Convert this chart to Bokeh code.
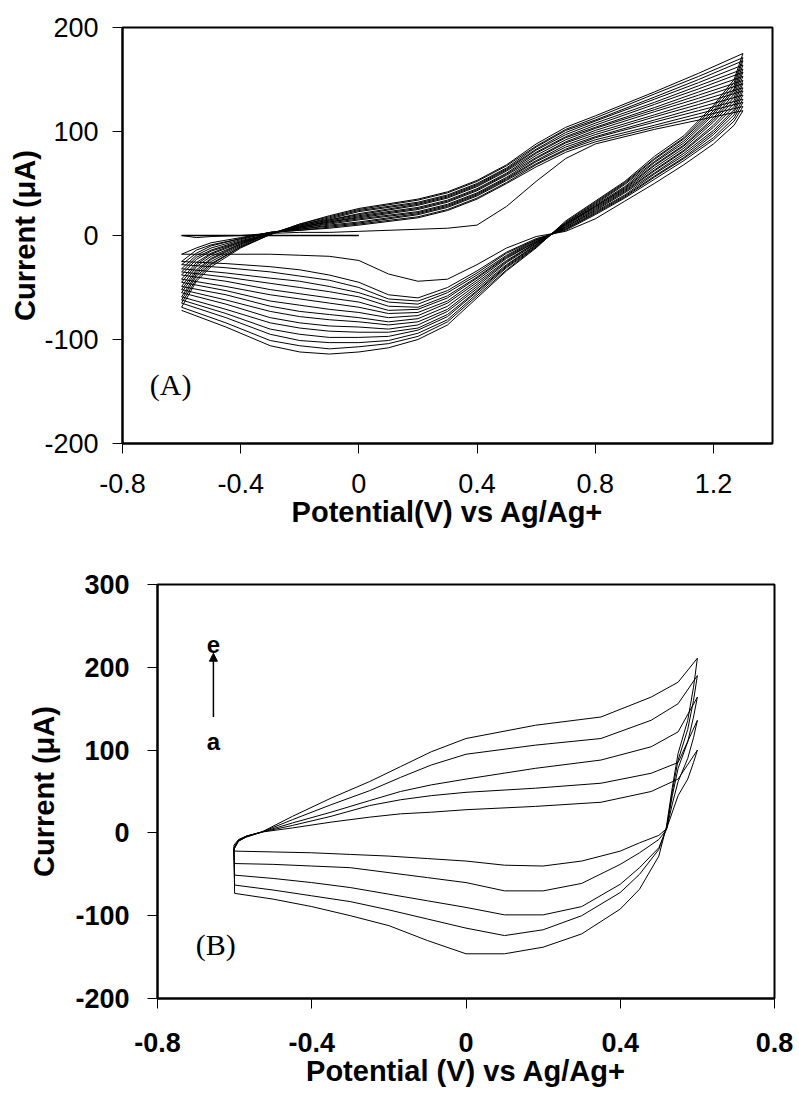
from bokeh.plotting import figure
from bokeh.models import Range1d, FixedTicker, Label, Arrow, NormalHead
from bokeh.embed import file_html
from bokeh.resources import INLINE

# ================= Panel (A): repeated cycles =================
A_X_TICKS = [-0.8, -0.4, 0.0, 0.4, 0.8, 1.2]
A_X_LABELS = ["-0.8", "-0.4", "0", "0.4", "0.8", "1.2"]
A_Y_TICKS = [-200, -100, 0, 100, 200]
A_Y_LABELS = ["-200", "-100", "0", "100", "200"]

# initial scan 0 V -> -0.6 V
A_START_X = [0.0, -0.6]
A_START_Y = [0, 0]

# potentials (V) of the forward (anodic) and reverse (cathodic) sweeps
A_X_ANODIC = [-0.6, -0.55, -0.5, -0.4, -0.3, -0.2, -0.1, 0.0, 0.2, 0.3, 0.4, 0.5, 0.6, 0.7, 0.8, 1.0, 1.15, 1.3]
A_X_CATHODIC = [1.27, 1.2, 1.1, 1.0, 0.9, 0.8, 0.7, 0.6, 0.5, 0.4, 0.3, 0.2, 0.1, 0.0, -0.1, -0.2, -0.3, -0.45, -0.6]

# currents (uA) per cycle
an01 = [0, -2, -1, 0, 2, 3, 3, 4, 6, 7, 10, 28, 52, 74, 88, 102, 111, 120]
ca01 = [106, 88, 68, 50, 33, 16, 4, -1, -12, -28, -42, -44, -37, -24, -20, -19, -18, -18, -18]
an02 = [-18, -12, -7, -2, 3, 5, 7, 10, 17, 24, 35, 50, 66, 80, 90, 104, 114, 124]
ca02 = [110, 92, 72, 54, 36, 20, 5, -3, -16, -34, -50, -60, -57, -45, -38, -33, -30, -27, -25]
an03 = [-25, -14, -9, -3, 3, 5, 8, 11, 18, 25, 36, 51, 68, 82, 92, 106, 117, 128]
ca03 = [113, 94, 74, 56, 37, 21, 6, -4, -17, -36, -53, -63, -61, -50, -43, -39, -35, -31, -28]
an04 = [-28, -17, -10, -3, 3, 6, 9, 12, 20, 27, 38, 53, 69, 83, 94, 109, 120, 131]
ca04 = [116, 97, 75, 57, 38, 22, 6, -4, -19, -38, -55, -66, -64, -55, -49, -44, -41, -36, -32]
an05 = [-32, -19, -12, -4, 3, 6, 10, 13, 21, 28, 39, 54, 71, 85, 95, 111, 123, 135]
ca05 = [119, 99, 77, 59, 39, 23, 7, -5, -20, -40, -58, -69, -68, -59, -54, -50, -46, -40, -35]
an06 = [-35, -21, -14, -5, 2, 7, 11, 15, 22, 29, 40, 55, 72, 87, 97, 114, 126, 139]
ca06 = [121, 101, 79, 60, 41, 24, 8, -6, -21, -41, -60, -71, -72, -64, -60, -56, -52, -44, -38]
an07 = [-38, -23, -15, -6, 2, 7, 12, 16, 23, 30, 41, 56, 74, 89, 99, 116, 129, 142]
ca07 = [124, 104, 81, 62, 42, 25, 8, -6, -22, -43, -63, -74, -75, -69, -65, -61, -57, -49, -42]
an08 = [-42, -26, -17, -6, 2, 8, 13, 17, 25, 32, 43, 58, 75, 90, 101, 119, 132, 146]
ca08 = [127, 106, 82, 63, 43, 26, 9, -7, -24, -45, -65, -77, -79, -74, -71, -67, -63, -53, -45]
an09 = [-45, -28, -18, -7, 2, 8, 13, 18, 26, 33, 44, 59, 77, 92, 103, 121, 135, 149]
ca09 = [130, 109, 84, 65, 44, 27, 10, -7, -25, -47, -68, -80, -83, -79, -76, -73, -68, -57, -49]
an10 = [-49, -30, -20, -8, 2, 8, 14, 19, 27, 34, 45, 60, 79, 94, 104, 123, 138, 153]
ca10 = [133, 111, 86, 67, 45, 28, 10, -8, -26, -49, -71, -83, -86, -83, -81, -78, -73, -62, -52]
an11 = [-52, -33, -22, -8, 2, 9, 15, 20, 29, 36, 47, 62, 80, 95, 106, 126, 141, 157]
ca11 = [136, 113, 87, 68, 46, 28, 11, -9, -28, -51, -73, -86, -90, -88, -87, -84, -79, -66, -55]
an12 = [-55, -35, -23, -9, 2, 9, 15, 21, 30, 37, 48, 63, 82, 97, 108, 128, 144, 160]
ca12 = [139, 116, 89, 70, 47, 29, 11, -9, -29, -53, -76, -89, -93, -93, -92, -89, -84, -71, -59]
an13 = [-59, -37, -25, -10, 2, 10, 16, 23, 31, 38, 49, 64, 83, 99, 110, 131, 147, 164]
ca13 = [141, 118, 91, 71, 49, 30, 12, -10, -30, -54, -78, -91, -97, -98, -98, -95, -90, -75, -62]
an14 = [-62, -39, -27, -11, 1, 10, 17, 24, 32, 39, 50, 65, 85, 101, 111, 133, 150, 168]
ca14 = [144, 120, 93, 73, 50, 31, 12, -11, -31, -56, -81, -94, -101, -103, -103, -101, -95, -79, -65]
an15 = [-65, -42, -28, -11, 1, 11, 18, 25, 34, 41, 52, 67, 86, 102, 113, 136, 153, 171]
ca15 = [147, 123, 94, 74, 51, 32, 13, -11, -33, -58, -83, -97, -104, -107, -109, -106, -101, -84, -69]
an16 = [-69, -44, -30, -12, 1, 11, 19, 26, 35, 42, 53, 68, 88, 104, 115, 138, 156, 175]
ca16 = [150, 125, 96, 76, 52, 33, 14, -12, -34, -60, -86, -100, -108, -112, -114, -112, -106, -88, -72]

A_CYCLES = [(an01, ca01), (an02, ca02), (an03, ca03), (an04, ca04), (an05, ca05),
            (an06, ca06), (an07, ca07), (an08, ca08), (an09, ca09), (an10, ca10),
            (an11, ca11), (an12, ca12), (an13, ca13), (an14, ca14), (an15, ca15),
            (an16, ca16)]

# ================= Panel (B): scan rates a..e =================
B_X_TICKS = [-0.8, -0.4, 0.0, 0.4, 0.8]
B_X_LABELS = ["-0.8", "-0.4", "0", "0.4", "0.8"]
B_Y_TICKS = [-200, -100, 0, 100, 200, 300]
B_Y_LABELS = ["-200", "-100", "0", "100", "200", "300"]

B_X_ANODIC = [-0.6, -0.602, -0.59, -0.57, -0.53, -0.45, -0.35, -0.25, -0.17, -0.09, 0.0, 0.18, 0.35, 0.48, 0.55, 0.6]
B_X_CATHODIC = [0.59, 0.575, 0.55, 0.535, 0.52, 0.5, 0.45, 0.4, 0.3, 0.2, 0.1, 0.0, -0.1, -0.2, -0.3, -0.4, -0.5, -0.6]

b_an_a = [-22, -15, -8, -4, 1, 6, 13, 19, 23, 25, 28, 32, 37, 50, 65, 100]
b_ca_a = [85, 65, 45, 25, 5, -3, -12, -22, -34, -40, -39, -34, -31, -28, -26, -24, -23, -22]
b_an_b = [-37, -18, -9, -4, 1, 9, 20, 33, 40, 45, 49, 54, 60, 72, 85, 136]
b_ca_b = [115, 90, 62, 35, 4, -8, -24, -38, -61, -70, -70, -60, -54, -48, -42, -40, -38, -37]
b_an_c = [-51, -18, -9, -4, 1, 12, 25, 39, 50, 58, 65, 78, 88, 104, 122, 164]
b_ca_c = [140, 110, 78, 45, 5, -18, -42, -62, -89, -99, -99, -90, -82, -74, -66, -60, -55, -51]
b_an_d = [-63, -20, -10, -5, 1, 16, 34, 51, 67, 82, 95, 106, 114, 136, 156, 190]
b_ca_d = [160, 125, 88, 50, 6, -20, -50, -72, -100, -117, -124, -115, -104, -93, -83, -76, -69, -63]
b_an_e = [-73, -20, -10, -5, 1, 20, 42, 62, 80, 98, 114, 130, 140, 164, 182, 211]
b_ca_e = [176, 136, 96, 55, 8, -28, -68, -92, -122, -138, -146, -146, -130, -112, -100, -89, -80, -73]

B_CURVES = [(b_an_a, b_ca_a), (b_an_b, b_ca_b), (b_an_c, b_ca_c), (b_an_d, b_ca_d), (b_an_e, b_ca_e)]

SANS = "Liberation Sans"
SERIF = "Liberation Serif"


def style(p, xt, xl, yt, yl, tick_style, tick_size, title_size,
          x_standoff, y_standoff, xlab_standoff, ylab_standoff):
    p.grid.visible = False
    p.background_fill_color = "white"
    p.border_fill_color = "white"
    p.outline_line_color = "black"
    p.outline_line_width = 2
    p.xaxis.ticker = FixedTicker(ticks=xt)
    p.yaxis.ticker = FixedTicker(ticks=yt)
    p.xaxis.major_label_overrides = dict(zip(xt, xl))
    p.yaxis.major_label_overrides = dict(zip(yt, yl))
    for ax in (p.xaxis[0], p.yaxis[0]):
        ax.axis_line_color = "black"
        ax.axis_line_width = 2
        ax.major_tick_in = 0
        ax.major_tick_out = 10
        ax.major_tick_line_color = "black"
        ax.major_tick_line_width = 1
        ax.minor_tick_line_color = None
        ax.major_label_text_font = SANS
        ax.major_label_text_font_style = tick_style
        ax.major_label_text_font_size = tick_size
        ax.major_label_text_color = "black"
        ax.axis_label_text_font = SANS
        ax.axis_label_text_font_style = "bold"
        ax.axis_label_text_font_size = title_size
        ax.axis_label_text_color = "black"
    p.xaxis.major_label_standoff = x_standoff
    p.yaxis.major_label_standoff = y_standoff
    p.xaxis.axis_label_standoff = xlab_standoff
    p.yaxis.axis_label_standoff = ylab_standoff


# ---------- figure A ----------
p1 = figure(width=799, height=540, x_range=Range1d(-0.8, 1.4), y_range=Range1d(-200, 200),
            output_backend="svg", toolbar_location=None,
            min_border_left=122, min_border_right=27, min_border_top=27, min_border_bottom=97,
            x_axis_label="Potential(V) vs Ag/Ag+", y_axis_label="Current (\u03bcA)")
style(p1, A_X_TICKS, A_X_LABELS, A_Y_TICKS, A_Y_LABELS, "normal", "27px", "29px", 20, 14, 0, 0)

p1.line(A_START_X, A_START_Y, line_color="black", line_width=1.6)
for an, ca in A_CYCLES:
    p1.line(A_X_ANODIC + A_X_CATHODIC, an + ca, line_color="black", line_width=1)

p1.add_layout(Label(x=-0.637, y=-143, text="(A)", text_font=SERIF, text_font_size="30px",
                    text_align="center", text_baseline="middle", text_color="black"))

# ---------- figure B ----------
p2 = figure(width=799, height=558, x_range=Range1d(-0.8, 0.8), y_range=Range1d(-200, 300),
            output_backend="svg", toolbar_location=None,
            min_border_left=157, min_border_right=25, min_border_top=44, min_border_bottom=100,
            x_axis_label="Potential (V) vs Ag/Ag+", y_axis_label="Current (\u03bcA)")
style(p2, B_X_TICKS, B_X_LABELS, B_Y_TICKS, B_Y_LABELS, "bold", "27px", "29px", 24, 18, 0, 12)

for an, ca in B_CURVES:
    p2.line(B_X_ANODIC + B_X_CATHODIC, an + ca, line_color="black", line_width=1)

p2.add_layout(Label(x=-0.649, y=-135, text="(B)", text_font=SERIF, text_font_size="30px",
                    text_align="center", text_baseline="middle", text_color="black"))
p2.add_layout(Arrow(end=NormalHead(size=8, fill_color="black", line_color="black"),
                    x_start=-0.655, y_start=140, x_end=-0.655, y_end=217,
                    line_color="black", line_width=1.5))
p2.add_layout(Label(x=-0.655, y=227, text="e", text_font=SANS, text_font_style="bold",
                    text_font_size="24px", text_align="center", text_baseline="middle",
                    text_color="black"))
p2.add_layout(Label(x=-0.655, y=110, text="a", text_font=SANS, text_font_style="bold",
                    text_font_size="24px", text_align="center", text_baseline="middle",
                    text_color="black"))

open("out.html", "w").write(file_html([p1, p2], INLINE))
